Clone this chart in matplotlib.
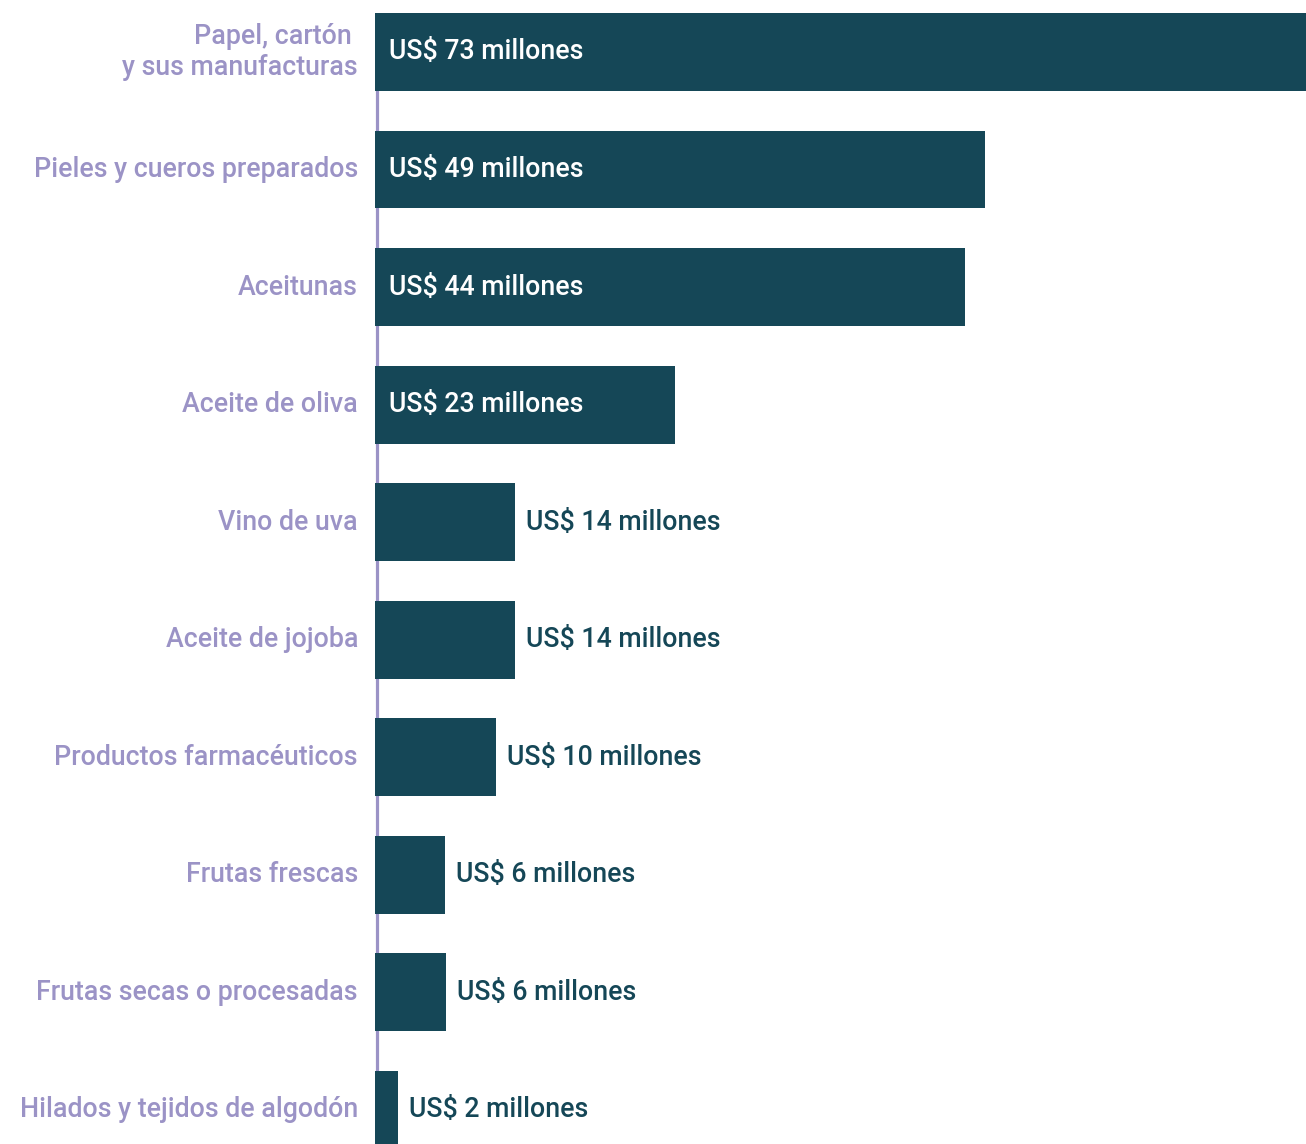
import matplotlib
matplotlib.use('Agg')
import matplotlib.pyplot as plt

plt.rcParams['font.family'] = ['Roboto', 'DejaVu Sans']

categorias = ['Papel, cartón \ny sus manufacturas', 'Pieles y cueros preparados', 'Aceitunas',
              'Aceite de oliva', 'Vino de uva', 'Aceite de jojoba', 'Productos farmacéuticos',
              'Frutas frescas', 'Frutas secas o procesadas', 'Hilados y tejidos de algodón']
# longitudes de barra (millones de US$)
valores = [73, 47.8, 46.3, 23.5, 11.0, 11.0, 9.5, 5.5, 5.6, 1.8]
etiquetas = ['US$ 73 millones', 'US$ 49 millones', 'US$ 44 millones', 'US$ 23 millones',
             'US$ 14 millones', 'US$ 14 millones', 'US$ 10 millones', 'US$ 6 millones',
             'US$ 6 millones', 'US$ 2 millones']

azul = '#154757'
lila = '#9b93c6'

fig = plt.figure(figsize=(13.06, 11.44), dpi=100)
ax = fig.add_axes([375/1306, 0, 931/1306, 1])

pos = range(len(categorias))
ax.barh(pos, valores, height=0.663, color=azul, zorder=2)
# linea de eje, solo desde la primera barra hacia abajo
ax.plot([0.12, 0.12], [0, 9.5], color=lila, lw=2.3, zorder=1, solid_capstyle='butt')

ax.set_xlim(0, 73)
ax.set_ylim(9.29, -0.442)
ax.axis('off')

for i, (v, et, cat) in enumerate(zip(valores, etiquetas, categorias)):
    if v > 20:
        ax.annotate(et, (0, i), xytext=(14, 0), textcoords='offset pixels',
                    va='center', ha='left', color='white', fontsize=19.3, fontweight='medium')
    else:
        ax.annotate(et, (v, i), xytext=(11, 0), textcoords='offset pixels',
                    va='center', ha='left', color=azul, fontsize=19.3, fontweight='medium')
    ax.annotate(cat, (0, i), xytext=(-17, 0), textcoords='offset pixels',
                va='center', ha='right', color=lila, fontsize=19.3, fontweight='medium',
                linespacing=1.2, annotation_clip=False)

fig.savefig('out.png', dpi=100)
